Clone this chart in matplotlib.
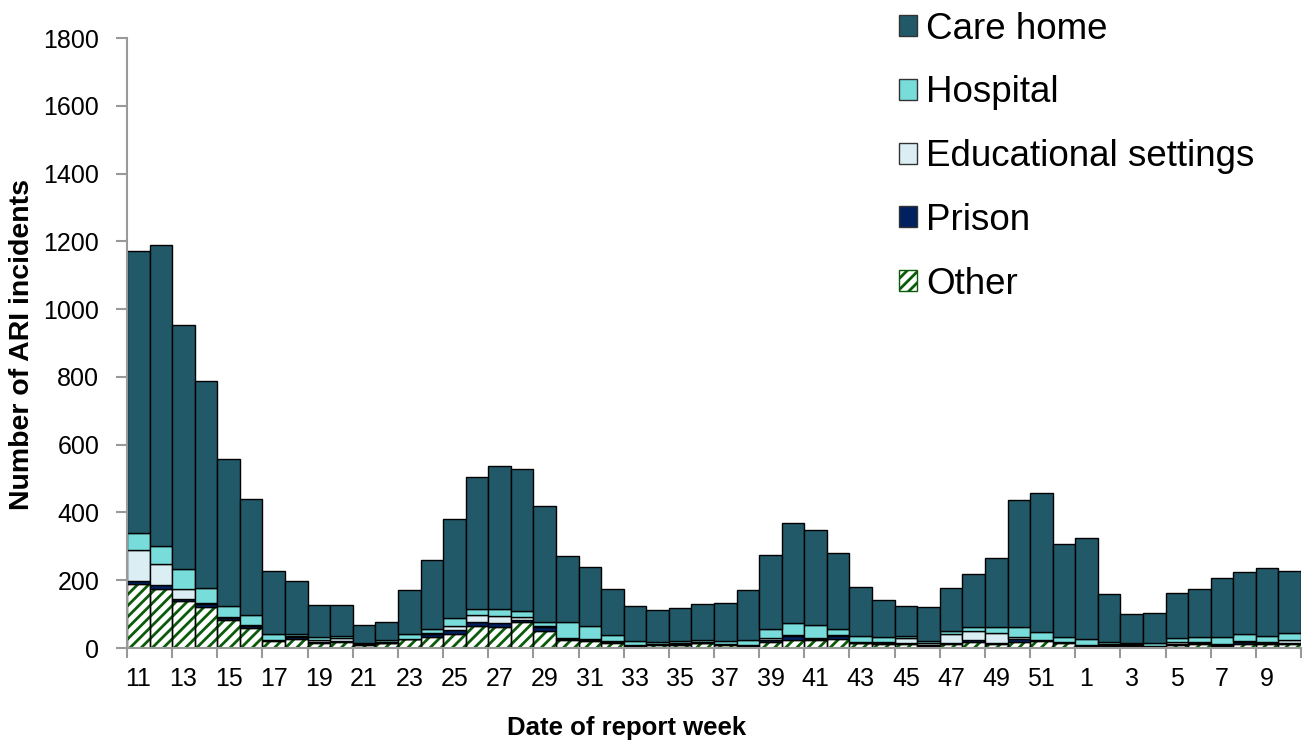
import matplotlib
matplotlib.use("Agg")
import matplotlib.pyplot as plt
from matplotlib.patches import Patch
import numpy as np

# Weekly ARI incidents by setting, report weeks 11-52 then 1-10
weeks = list(range(11, 53)) + list(range(1, 11))

other = [190, 174, 138, 121, 83, 60, 22, 28, 14, 18, 10, 14, 26, 32, 40, 65, 63, 76, 50, 24,
         20, 16, 7, 9, 10, 14, 10, 6, 18, 23, 24, 28, 14, 13, 12, 5, 12, 18, 12, 18,
         20, 14, 5, 6, 5, 3, 10, 12, 7, 13, 11, 11]
prison = [7, 12, 7, 9, 6, 6, 2, 4, 5, 3, 3, 1, 1, 8, 13, 11, 11, 6, 13, 3,
          3, 2, 2, 2, 2, 2, 2, 3, 6, 11, 2, 7, 2, 2, 3, 3, 3, 5, 4, 9,
          3, 3, 2, 4, 3, 1, 2, 2, 2, 4, 4, 4]
educational = [93, 63, 30, 4, 2, 2, 1, 3, 5, 8, 1, 3, 1, 4, 13, 20, 20, 10, 1, 3,
               3, 2, 1, 1, 2, 2, 1, 1, 6, 5, 3, 4, 3, 4, 14, 7, 25, 26, 29, 6,
               1, 2, 2, 2, 3, 2, 5, 3, 2, 3, 3, 10]
hospital = [50, 53, 58, 43, 33, 30, 17, 5, 7, 5, 2, 6, 12, 13, 24, 19, 21, 16, 13, 46,
            38, 19, 10, 6, 6, 6, 9, 15, 25, 35, 40, 16, 16, 13, 7, 6, 9, 14, 18, 29,
            23, 12, 17, 5, 5, 8, 12, 15, 20, 22, 16, 20]
care_home = [832, 886, 719, 610, 434, 342, 186, 158, 95, 94, 53, 54, 131, 204, 292, 391, 423, 421, 341, 195,
             175, 134, 104, 94, 97, 107, 111, 146, 219, 296, 278, 225, 146, 109, 88, 101, 129, 154, 203, 376,
             409, 277, 300, 143, 84, 88, 132, 141, 177, 182, 203, 182]

c_care = "#215968"
c_hosp = "#78DCDB"
c_educ = "#DAEEF3"
c_prison = "#002060"
c_other = "#0A5C0A"

plt.rcParams['font.family'] = ['Liberation Sans', 'DejaVu Sans']
plt.rcParams['hatch.linewidth'] = 2.0

fig = plt.figure(figsize=(13.04, 7.44), dpi=100)
ax = fig.add_axes([127 / 1304, 1 - 648 / 744, (1301 - 127) / 1304, (648 - 38) / 744])

x = np.arange(len(weeks))
bottom = np.zeros(len(weeks))

# "Other" is hatched: draw the hatch first, then the black outline on top
ax.bar(x, other, width=1, bottom=bottom, facecolor="white", edgecolor=c_other,
       hatch="///", linewidth=0)
ax.bar(x, other, width=1, bottom=bottom, fill=False, edgecolor="black", linewidth=1)
bottom = bottom + np.array(other)

for vals, col in [(prison, c_prison), (educational, c_educ), (hospital, c_hosp), (care_home, c_care)]:
    ax.bar(x, vals, width=1, bottom=bottom, color=col, edgecolor="black", linewidth=1)
    bottom = bottom + np.array(vals)

ax.set_xlim(-0.5, len(weeks) - 0.5)
ax.set_ylim(0, 1800)
ax.set_yticks(range(0, 1801, 200))

# labels on every other week, tick marks between pairs of bars
ax.set_xticks(x[::2])
ax.set_xticklabels([str(w) for w in weeks[::2]])
ax.set_xticks(np.arange(-0.5, len(weeks), 2), minor=True)
ax.tick_params(axis="x", which="major", length=0, pad=14, labelsize=18)
ax.tick_params(axis="x", which="minor", length=7, width=1.5, color="#999999", direction="out")
ax.tick_params(axis="y", length=8, width=1.5, color="#999999", pad=12, labelsize=18)

for s in ["top", "right"]:
    ax.spines[s].set_visible(False)
for s in ["left", "bottom"]:
    ax.spines[s].set_color("#999999")
    ax.spines[s].set_linewidth(1.5)

fig.text(22 / 1304, 1 - 344 / 744, "Number of ARI incidents", rotation=90,
         ha="center", va="center", fontsize=20.5, fontweight="bold")
fig.text(627 / 1304, 1 - 735 / 744, "Date of report week",
         ha="center", va="baseline", fontsize=18.5, fontweight="bold")

handles = [
    Patch(facecolor=c_care, edgecolor="#333333", label="Care home"),
    Patch(facecolor=c_hosp, edgecolor="#333333", label="Hospital"),
    Patch(facecolor=c_educ, edgecolor="#333333", label="Educational settings"),
    Patch(facecolor=c_prison, edgecolor="#333333", label="Prison"),
    Patch(facecolor="white", edgecolor=c_other, hatch="///", label="Other"),
]
fig.legend(handles=handles, loc="upper left", bbox_to_anchor=(884 / 1304, 1 + 3 / 744),
           frameon=False, fontsize=26.5, handlelength=0.5, handleheight=0.5,
           handletextpad=0.25, labelspacing=0.78, borderaxespad=0)

fig.savefig("out.png", dpi=100)
